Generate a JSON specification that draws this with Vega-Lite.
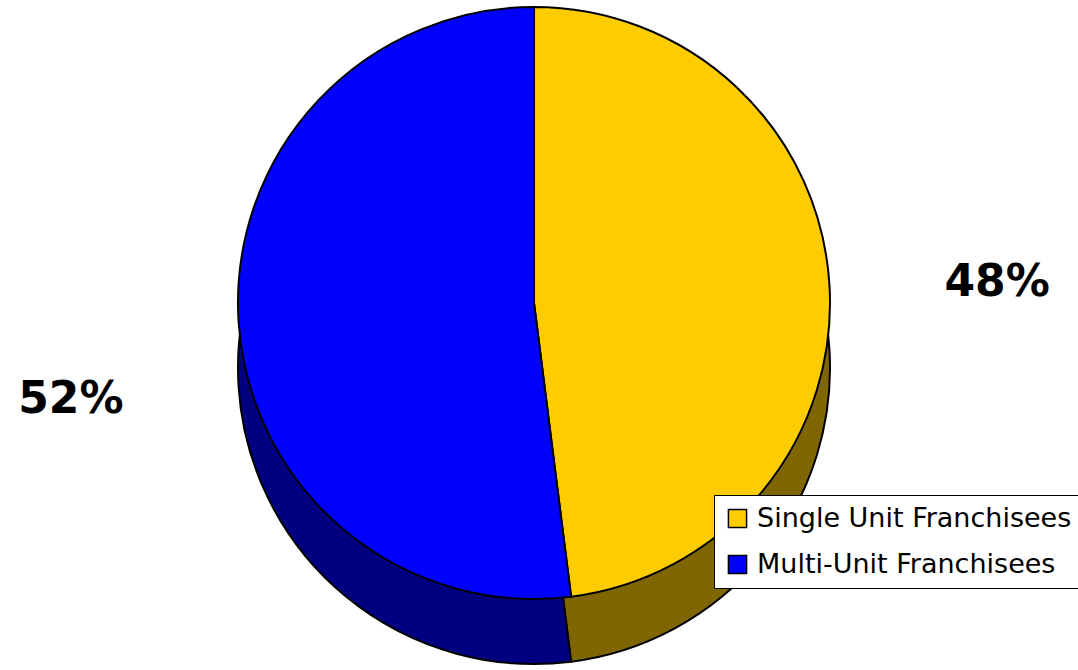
{
  "$schema": "https://vega.github.io/schema/vega-lite/v6.json",
  "width": 1078,
  "height": 670,
  "autosize": {"type": "fit", "contains": "padding"},
  "padding": 0,
  "background": "white",
  "view": {"stroke": null},
  "data": {"values": [
    {"category": "Single Unit Franchisees", "share": 48, "label": "48%", "order": 1},
    {"category": "Multi-Unit Franchisees", "share": 52, "label": "52%", "order": 2}
  ]},
  "layer": [
    {
      "mark": {"type": "arc", "outerRadius": 296, "stroke": "black", "strokeWidth": 2, "x": {"expr": "width/2 - 5"}, "y": {"expr": "height/2 + 33"}},
      "encoding": {
        "theta": {"field": "share", "type": "quantitative", "stack": true},
        "order": {"field": "order", "type": "quantitative"},
        "fill": {"field": "category", "type": "nominal", "sort": null, "scale": {"domain": ["Single Unit Franchisees", "Multi-Unit Franchisees"], "range": ["#806600", "#000080"]}, "legend": null}
      }
    },
    {
      "mark": {"type": "arc", "outerRadius": 296, "stroke": "black", "strokeWidth": 2, "x": {"expr": "width/2 - 5"}, "y": {"expr": "height/2 - 32"}},
      "encoding": {
        "theta": {"field": "share", "type": "quantitative", "stack": true},
        "order": {"field": "order", "type": "quantitative"},
        "color": {"field": "category", "type": "nominal", "sort": null,
          "scale": {"domain": ["Single Unit Franchisees", "Multi-Unit Franchisees"], "range": ["#FFCC00", "#0000FF"]},
          "legend": {"title": null, "orient": "none", "legendX": 714, "legendY": 495,
            "symbolType": "square", "symbolSize": 330, "symbolStrokeColor": "black", "symbolStrokeWidth": 1.5,
            "labelFont": "DejaVu Sans", "labelFontSize": 27, "labelColor": "black", "labelLimit": 500, "labelOffset": 6,
            "rowPadding": 18, "padding": 10, "strokeColor": "black", "fillColor": "white"}}
      }
    },
    {
      "mark": {"type": "text", "radius": 464, "font": "DejaVu Sans", "fontWeight": "bold", "fontSize": 44, "color": "black", "dy": {"expr": "datum.order == 1 ? 9 : 68"}, "x": {"expr": "width/2 - 5"}, "y": {"expr": "height/2 - 32"}},
      "encoding": {
        "theta": {"field": "share", "type": "quantitative", "stack": true},
        "order": {"field": "order", "type": "quantitative"},
        "text": {"field": "label", "type": "nominal"}
      }
    }
  ],
  "resolve": {"scale": {"fill": "independent", "color": "independent"}, "legend": {"fill": "independent", "color": "independent"}}
}
